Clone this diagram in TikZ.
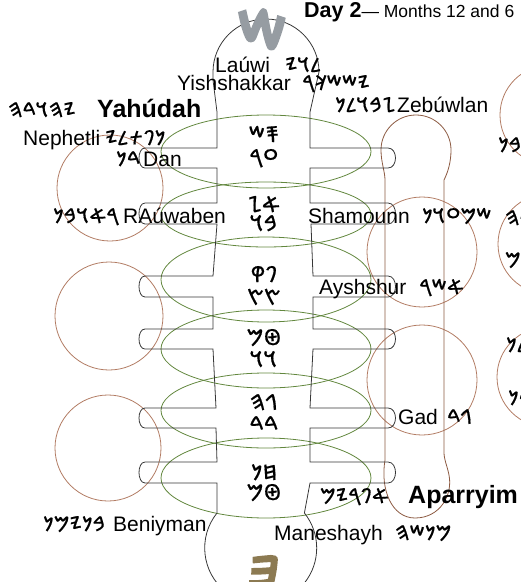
\documentclass[tikz,border=0pt]{standalone}
\usepackage{fontspec}
\setmainfont{Liberation Sans}
\TeXXeTstate=1
\newfontfamily\phx[FakeBold=0.6]{Noto Sans Phoenician}
\newfontfamily\phxbold[FakeBold=4]{Noto Sans Phoenician}
\definecolor{ringbrown}{RGB}{178,124,100}
\definecolor{capbrown}{RGB}{140,90,66}
\definecolor{ovalgreen}{RGB}{98,135,62}
\definecolor{bodygray}{RGB}{55,55,55}
\definecolor{shingray}{RGB}{150,156,162}
\definecolor{heolive}{RGB}{140,122,82}
\begin{document}
\begin{tikzpicture}[x=1pt,y=-1pt,
  lbl/.style={inner sep=0pt,anchor=base west,font=\fontsize{21}{24}\selectfont},
  blbl/.style={inner sep=0pt,anchor=base west,font=\fontsize{25}{28}\selectfont\bfseries},
  pal/.style={inner sep=0pt,anchor=base west,font=\fontsize{20.5}{22}\selectfont\phx},
  mid/.style={inner sep=0pt,anchor=base,font=\fontsize{22}{24}\selectfont\phx},
  body/.style={draw=bodygray,line width=0.8pt},
  ring/.style={draw=ringbrown,line width=0.8pt},
  oval/.style={draw=ovalgreen,line width=0.8pt}]
\useasboundingbox (0,0) rectangle (521,582);
\clip (0,0) rectangle (521,582);
% brown rings
\draw[ring] (110,188) circle[radius=53];
\draw[ring] (109,316) circle[radius=54];
\draw[ring] (108,448) circle[radius=53];
\draw[ring] (422,252) circle[radius=55];
\draw[ring] (422,380) circle[radius=55];
\draw[ring] (550,115) circle[radius=50];
\draw[ring] (548,244) circle[radius=50];
\draw[ring] (547,377) circle[radius=50];
% capsule
\draw[draw=capbrown,line width=0.8pt]
  (385,180) -- (385,460) .. controls (380,490) and (392,518) .. (415,518)
  .. controls (440,518) and (453,495) .. (449,475)
  .. controls (447,465) and (444,460) .. (444,452) -- (444,180)
  .. controls (448,172) and (451,162) .. (451,150)
  arc[start angle=0,end angle=-180,radius=35]
  .. controls (381,162) and (385,172) .. (385,180) -- cycle;
% green ovals
\draw[oval] (266,151.5) ellipse[x radius=105,y radius=36.5];
\draw[oval] (266,214.5) ellipse[x radius=105,y radius=32.5];
\draw[oval] (266,279.5) ellipse[x radius=105,y radius=42.5];
\draw[oval] (266,349) ellipse[x radius=105,y radius=39];
\draw[oval] (266,410.5) ellipse[x radius=105,y radius=37.5];
\draw[oval] (266,478) ellipse[x radius=105,y radius=40];
% body with stubs
\draw[body]
  (217,148) -- (145,148) .. controls (137,148) and (137,168) .. (145,168) -- (217,168)
  -- (217,203) -- (145,203) .. controls (137,203) and (137,224) .. (145,224) -- (217,224)
  -- (213,276) -- (145,276) .. controls (137,276) and (137,297) .. (145,297) -- (213,297)
  -- (213,329) -- (145,329) .. controls (137,329) and (137,349) .. (145,349) -- (213,349)
  -- (216,408) -- (145,408) .. controls (137,408) and (137,428) .. (145,428) -- (216,428)
  -- (217,462) -- (145,462) .. controls (137,462) and (137,483) .. (145,483) -- (217,483)
  -- (217,513) arc[start angle=218.7,end angle=-38.7,radius=56]
  -- (310,483) -- (388,483) .. controls (398,483) and (398,462) .. (388,462) -- (310,462)
  -- (310,428) -- (388,428) .. controls (398,428) and (398,408) .. (388,408) -- (310,408)
  -- (313,349) -- (388,349) .. controls (398,349) and (398,329) .. (388,329) -- (313,329)
  -- (313,297) -- (388,297) .. controls (398,297) and (398,276) .. (388,276) -- (313,276)
  -- (311,224) -- (388,224) .. controls (398,224) and (398,203) .. (388,203) -- (310,203)
  -- (310,168) -- (388,168) .. controls (398,168) and (398,148) .. (388,148) -- (310,148)
  -- (310,112) -- (319,72) arc[start angle=0,end angle=-180,radius=53]
  -- (213,80) -- (217,112) -- cycle;
% big letters
\node[inner sep=0pt,anchor=base,text=shingray,font=\fontsize{52}{52}\selectfont\phxbold] (shin) at (263,65)
  {\scalebox{1.3}[1.45]{\beginR 𐤔\endR}};
\node[inner sep=0pt,text=heolive,rotate=-30,font=\fontsize{56}{56}\selectfont\phxbold] (he) at (264,574) {\beginR 𐤄\endR};
% title
\node[inner sep=0pt,anchor=base west] (title) at (304,17)
  {\fontsize{21.5}{24}\selectfont\bfseries Day 2{\mdseries\fontsize{17.5}{20}\selectfont— Months 12 and 6}};
% labels
\node[lbl] (lawi) at (215,72) {Laúwi};
\node[pal] (lawip) at (285,72) {\beginR 𐤋𐤅𐤉\endR};
\node[lbl] (yish) at (177,90) {Yishshakkar};
\node[pal] (yishp) at (302,90) {\beginR 𐤉𐤔𐤔𐤊𐤓\endR};
\node[pal] (zebp) at (335,112) {\beginR 𐤆𐤁𐤅𐤋𐤍\endR};
\node[lbl] (zeb) at (397,112) {Zebúwlan};
\node[pal] (yahp) at (8,117) {\beginR 𐤉𐤄𐤅𐤃𐤄\endR};
\node[blbl] (yah) at (97,117) {Yahúdah};
\node[lbl] (neph) at (23,145) {Nephetli};
\node[pal] (nephp) at (105,145) {\beginR 𐤍𐤐𐤕𐤋𐤉\endR};
\node[pal] (danp) at (116,166) {\beginR 𐤃𐤍\endR};
\node[lbl] (dan) at (143,166) {Dan};
\node[pal] (reup) at (53,223) {\beginR 𐤓𐤀𐤅𐤁𐤍\endR};
\node[lbl] (reu) at (123,223) {RAúwaben};
\node[lbl] (sham) at (308,223) {Shamounn};
\node[pal] (shamp) at (422,223) {\beginR 𐤔𐤌𐤏𐤅𐤍\endR};
\node[lbl] (ash) at (319,294) {Ayshshur};
\node[pal] (ashp) at (419,294) {\beginR 𐤀𐤔𐤓\endR};
\node[lbl] (gad) at (398,424) {Gad};
\node[pal] (gadp) at (447,424) {\beginR 𐤂𐤃\endR};
\node[pal] (aparp) at (320,503) {\beginR 𐤀𐤐𐤓𐤉𐤌\endR};
\node[blbl] (apar) at (408,503) {Aparryim};
\node[pal] (benp) at (43,531) {\beginR 𐤁𐤍𐤉𐤌𐤍\endR};
\node[lbl] (ben) at (113,531) {Beniyman};
\node[lbl] (man) at (274,540) {Maneshayh};
\node[pal] (manp) at (395,540) {\beginR 𐤌𐤍𐤔𐤄\endR};
% far right clipped labels
\node[pal] (fr1) at (498,152) {\beginR 𐤓𐤀𐤅𐤁𐤍\endR};
\node[pal] (fr2) at (505,225) {\beginR 𐤉𐤄𐤅𐤃𐤄\endR};
\node[pal] (fr3) at (505,267) {\beginR 𐤀𐤐𐤓𐤉𐤌\endR};
\node[pal] (fr4) at (506,352) {\beginR 𐤆𐤁𐤅𐤋𐤍\endR};
\node[pal] (fr5) at (508,405) {\beginR 𐤃𐤍\endR};
% central letter pairs
\node[mid] (m1a) at (264,142) {\beginR 𐤎𐤔\endR};
\node[mid] (m1b) at (264,165) {\beginR 𐤏𐤓\endR};
\node[mid] (m2a) at (264,212) {\beginR 𐤀𐤆\endR};
\node[mid] (m2b) at (264,231) {\beginR 𐤁𐤅\endR};
\node[mid] (m3a) at (264,282) {\beginR 𐤐𐤒\endR};
\node[mid] (m3b) at (264,305) {\beginR 𐤑𐤑\endR};
\node[mid] (m4a) at (264,345) {\beginR 𐤈𐤌\endR};
\node[mid] (m4b) at (264,367) {\beginR 𐤅𐤅\endR};
\node[mid] (m5a) at (264,410) {\beginR 𐤂𐤄\endR};
\node[mid] (m5b) at (264,432) {\beginR 𐤃𐤃\endR};
\node[mid] (m6a) at (264,480) {\beginR 𐤇𐤍\endR};
\node[mid] (m6b) at (264,500) {\beginR 𐤈𐤌\endR};
\end{tikzpicture}
\end{document}
